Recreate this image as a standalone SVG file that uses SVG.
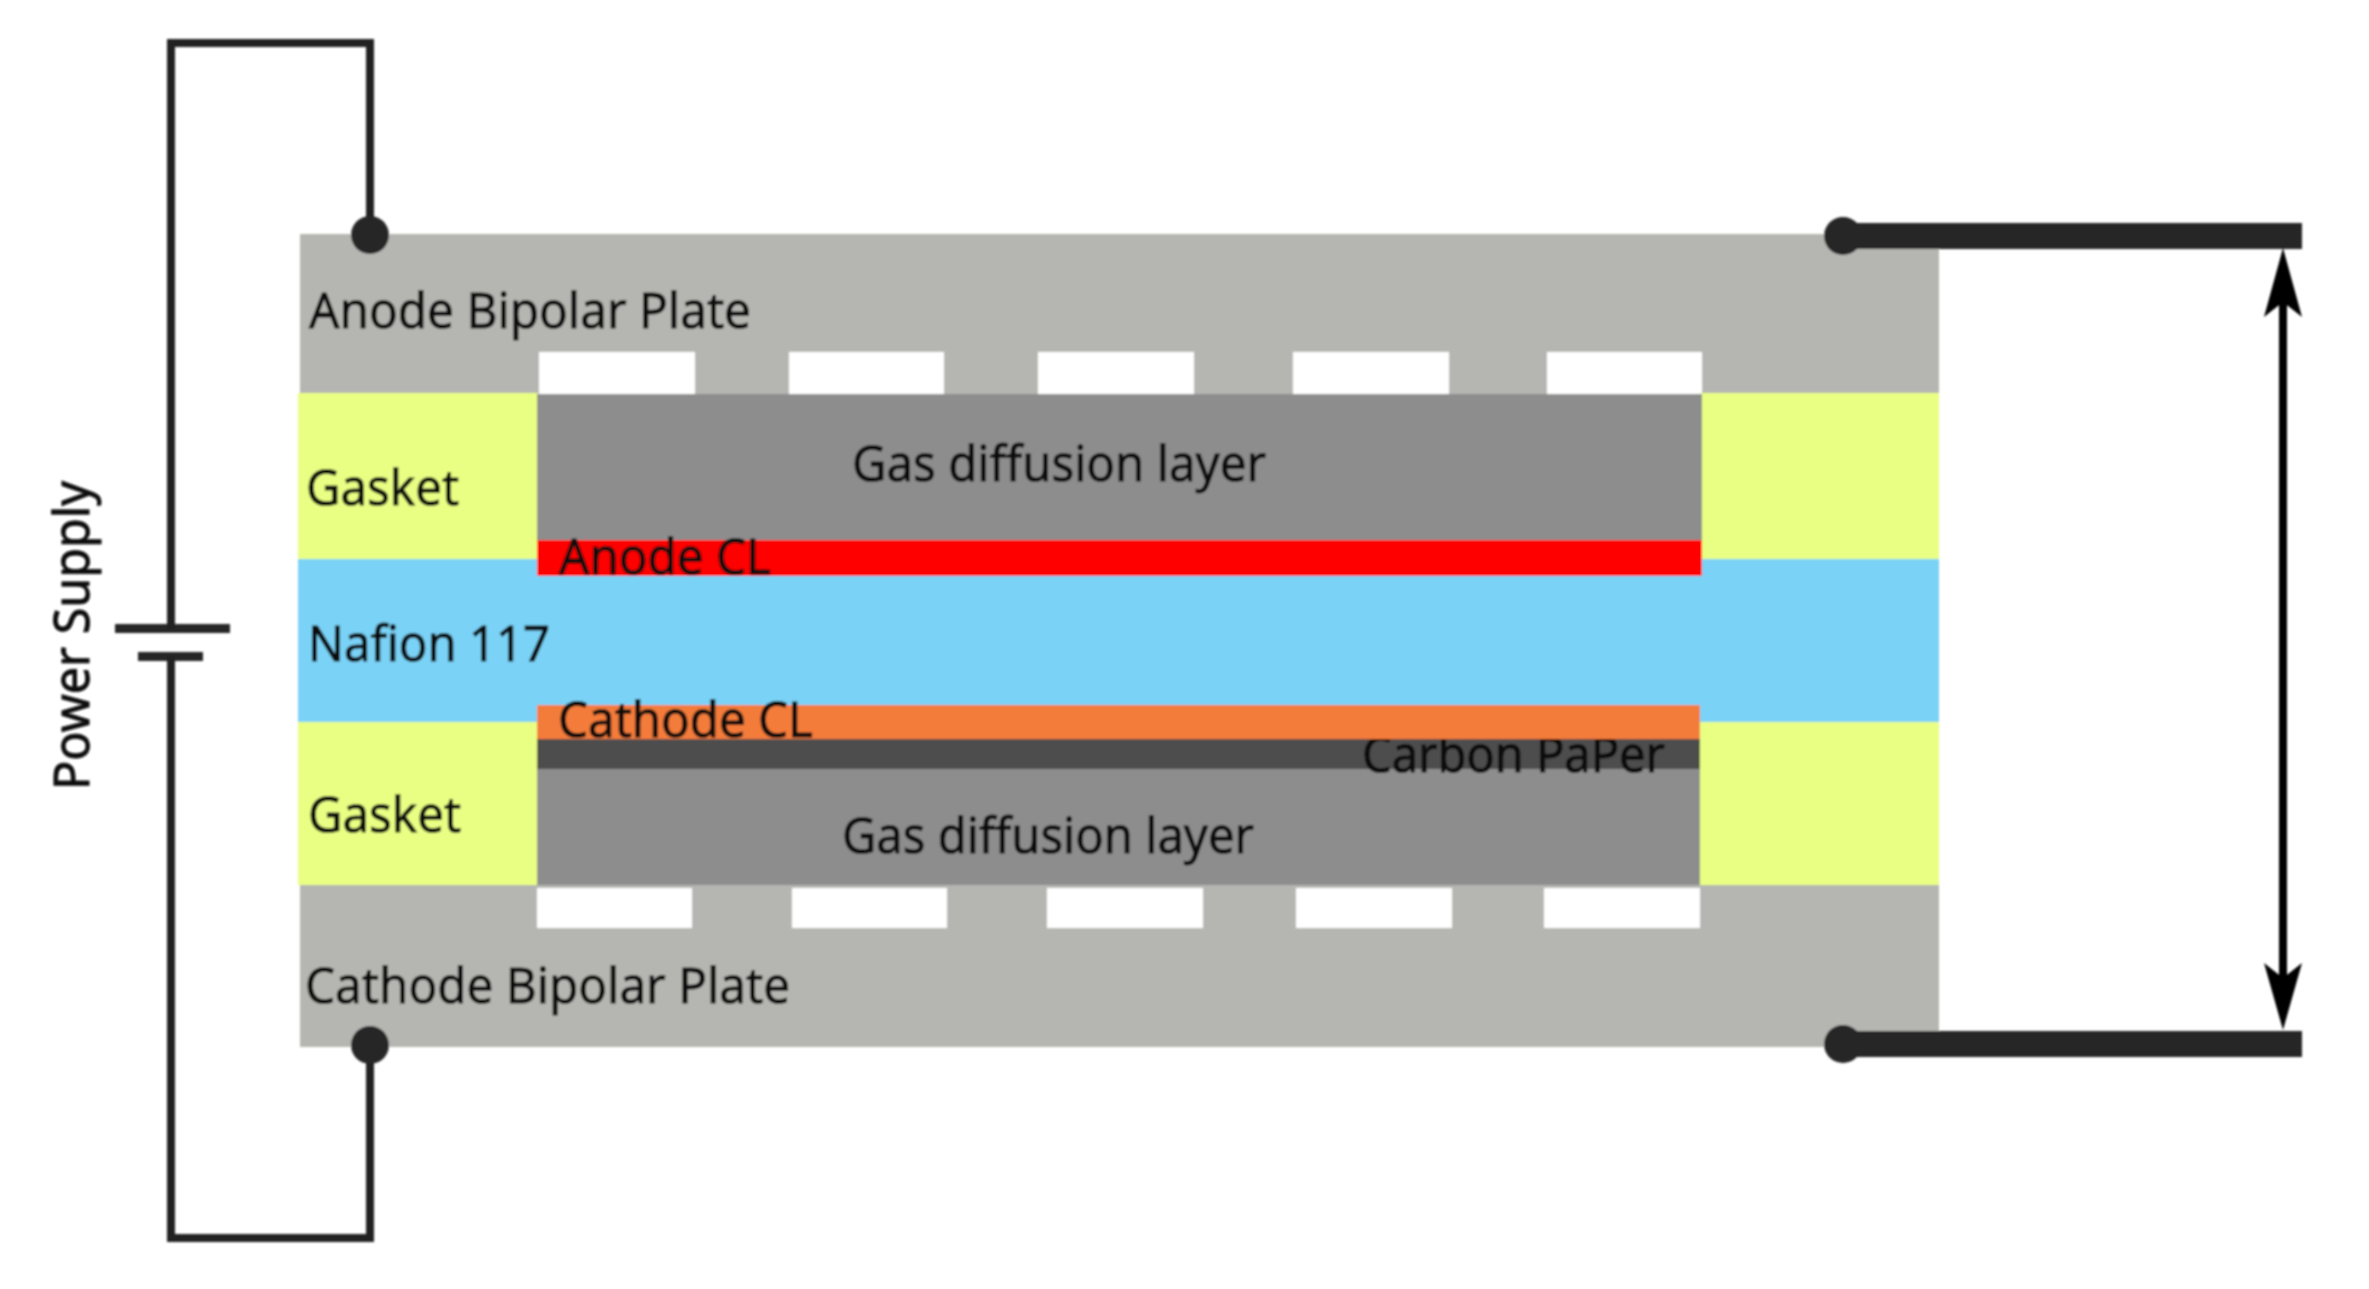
<svg xmlns="http://www.w3.org/2000/svg" width="2369" height="1289" viewBox="0 0 2369 1289">
<style>
.t{font-family:"Noto Sans","Open Sans","Liberation Sans",sans-serif;font-size:50px;fill:#0c0c0c;stroke:#0c0c0c;stroke-width:0.9}
.plate{fill:#b5b6b1}.gasket{fill:#e9ff84}.gdl{fill:#8d8d8d}.ch{fill:#fff}
.w{fill:none;stroke:#222;stroke-width:8}
.j{fill:#262626}
</style>
<defs>
<filter id="soft" x="0" y="0" width="100%" height="100%" filterUnits="userSpaceOnUse"><feGaussianBlur stdDeviation="0.8"/></filter>
</defs>
<rect width="2369" height="1289" fill="#fff"/>
<g filter="url(#soft)">
<g id="anode-plate">
<rect class="plate" x="300" y="234" width="1639" height="160"/>
<rect class="ch" x="539" y="352" width="156" height="42"/>
<rect class="ch" x="789" y="352" width="155" height="42"/>
<rect class="ch" x="1038" y="352" width="156" height="42"/>
<rect class="ch" x="1293" y="352" width="156" height="42"/>
<rect class="ch" x="1547" y="352" width="155" height="42"/>
<text class="t" x="309" y="328" textLength="442" lengthAdjust="spacingAndGlyphs">Anode Bipolar Plate</text>
</g>
<g id="cathode-plate">
<rect class="plate" x="300" y="884" width="1639" height="163"/>
<rect class="ch" x="537" y="888" width="155" height="40"/>
<rect class="ch" x="792" y="888" width="155" height="40"/>
<rect class="ch" x="1047" y="888" width="156" height="40"/>
<rect class="ch" x="1296" y="888" width="156" height="40"/>
<rect class="ch" x="1544" y="888" width="156" height="40"/>
<text class="t" x="305" y="1003" textLength="485" lengthAdjust="spacingAndGlyphs">Cathode Bipolar Plate</text>
</g>
<g id="gasket-top">
<rect class="gasket" x="298" y="393" width="240" height="166"/>
<rect class="gasket" x="1700" y="393" width="239" height="166"/>
<text class="t" x="306" y="505" textLength="153" lengthAdjust="spacingAndGlyphs">Gasket</text>
</g>
<g id="gasket-bottom">
<rect class="gasket" x="298" y="721" width="240" height="164"/>
<rect class="gasket" x="1698" y="721" width="241" height="164"/>
<text class="t" x="308" y="832" textLength="153" lengthAdjust="spacingAndGlyphs">Gasket</text>
</g>
<g id="nafion">
<rect x="298" y="559" width="1641" height="163" fill="#7ad2f6"/>
<text class="t" x="308" y="661" textLength="242" lengthAdjust="spacingAndGlyphs">Nafion 117</text>
</g>
<g id="gdl-top">
<rect class="gdl" x="537" y="394" width="1165" height="147"/>
<text class="t" x="852" y="481" textLength="414" lengthAdjust="spacingAndGlyphs">Gas diffusion layer</text>
</g>
<g id="anode-cl">
<rect x="537" y="540" width="1165" height="36" fill="#fe0000"/>
<text class="t" x="559" y="574" textLength="212" lengthAdjust="spacingAndGlyphs">Anode CL</text>
</g>
<g id="gdl-bottom">
<rect class="gdl" x="537" y="768" width="1163" height="117"/>
<text class="t" x="842" y="853" textLength="412" lengthAdjust="spacingAndGlyphs">Gas diffusion layer</text>
</g>
<g id="carbon-paper">
<rect x="537" y="739" width="1163" height="30" fill="#4d4d4d"/>
<text class="t" x="1362" y="772" textLength="303" lengthAdjust="spacingAndGlyphs">Carbon PaPer</text>
</g>
<g id="cathode-cl">
<rect x="537" y="705" width="1163" height="34" fill="#f47b3a"/>
<text class="t" x="558" y="737" textLength="255" lengthAdjust="spacingAndGlyphs">Cathode CL</text>
</g>
<g id="power-supply">
<rect class="j" x="115" y="624" width="115" height="9"/>
<rect class="j" x="138" y="652" width="65" height="9"/>
<text class="t" transform="translate(89 790) rotate(-90)" textLength="309" lengthAdjust="spacingAndGlyphs">Power Supply</text>
</g>
<g id="connectors">
<path class="w" d="M171 629V43H370V236"/>
<path class="w" d="M171 656V1238H370V1046"/>
<circle class="j" cx="370" cy="235" r="19"/>
<circle class="j" cx="370" cy="1045" r="19"/>
<path d="M1843 236H2302" fill="none" stroke="#262626" stroke-width="26"/>
<path d="M1843 1044H2302" fill="none" stroke="#262626" stroke-width="26"/>
<circle class="j" cx="1843" cy="236" r="19"/>
<circle class="j" cx="1843" cy="1044" r="19"/>
<path d="M2283 300V980" fill="none" stroke="#000" stroke-width="8"/>
<path d="M2283 248L2302 317L2283 302L2264 317Z" fill="#000"/>
<path d="M2283 1030L2302 963L2283 978L2264 963Z" fill="#000"/>
</g>
</g>
</svg>
